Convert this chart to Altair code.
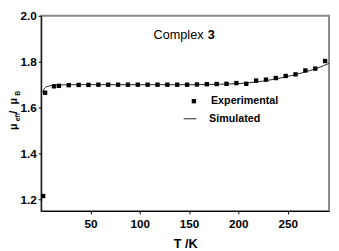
import altair as alt
import pandas as pd

# Experimental data (T in K, mu_eff / mu_B)
T_exp = [2, 4, 13, 18, 28, 38, 48, 58, 68, 78, 88, 98, 108, 118, 128, 138, 148,
         158, 168, 178, 188, 198, 208, 218, 228, 238, 248, 258, 268, 278, 288]
mu_exp = [1.215, 1.665, 1.693, 1.695, 1.698, 1.699, 1.699, 1.700, 1.700, 1.700,
          1.700, 1.700, 1.700, 1.700, 1.700, 1.700, 1.700, 1.701, 1.702, 1.703,
          1.704, 1.707, 1.704, 1.718, 1.722, 1.729, 1.738, 1.745, 1.762, 1.770, 1.803]

# Simulated curve
T_sim = [1.5, 2.5, 3.5, 5, 7, 10, 14, 20, 30, 50, 80, 120, 150, 170, 190, 210,
         230, 250, 265, 280, 292]
mu_sim = [1.668, 1.678, 1.685, 1.690, 1.693, 1.696, 1.698, 1.699, 1.700, 1.700,
          1.700, 1.700, 1.700, 1.701, 1.703, 1.708, 1.719, 1.736, 1.752, 1.772, 1.793]

series_exp = "Experimental"
series_sim = "Simulated"
x_ticks = [50, 100, 150, 200, 250]
y_ticks = [1.2, 1.4, 1.6, 1.8, 2.0]

FONT = "Liberation Sans"

exp_df = pd.DataFrame({"T": T_exp, "mu": mu_exp, "series": series_exp})
sim_df = pd.DataFrame({"T": T_sim, "mu": mu_sim, "series": series_sim})

xscale = alt.Scale(domain=[0, 292], nice=False, zero=False)
yscale = alt.Scale(domain=[1.15, 2.0], nice=False, zero=False)

xaxis = alt.Axis(
    title="T /K", values=x_ticks, format="d",
    tickSize=3, labelOverlap=False,
    grid=False, domainColor="black", tickColor="black", labelColor="black",
    labelFont=FONT, labelFontWeight="bold", labelFontSize=12, labelPadding=5,
    titleFont=FONT, titleFontWeight="bold", titleFontSize=13, titleColor="black",
    titlePadding=8,
)
yaxis = alt.Axis(
    title=None, values=y_ticks, format=".1f",
    tickSize=3, labelOverlap=False,
    grid=False, domainColor="black", tickColor="black", labelColor="black",
    labelFont=FONT, labelFontWeight="bold", labelFontSize=12, labelPadding=2,
)

legend_common = dict(
    title=None, orient="none", padding=0,
    labelFont=FONT, labelFontWeight="bold", labelFontSize=11, labelColor="black",
)

points = alt.Chart(exp_df).mark_point(filled=True, size=20, opacity=1, color="black").encode(
    x=alt.X("T:Q", scale=xscale, axis=xaxis),
    y=alt.Y("mu:Q", scale=yscale, axis=yaxis),
    shape=alt.Shape(
        "series:N",
        scale=alt.Scale(domain=[series_exp], range=["square"]),
        legend=alt.Legend(
            legendX=151, legendY=82, symbolSize=20, symbolFillColor="black",
            labelOffset=12, **legend_common,
        ),
    ),
)

line = alt.Chart(sim_df).mark_line(strokeWidth=1, interpolate="monotone").encode(
    x=alt.X("T:Q", scale=xscale, axis=xaxis),
    y=alt.Y("mu:Q", scale=yscale, axis=yaxis),
    color=alt.Color(
        "series:N",
        scale=alt.Scale(domain=[series_sim], range=["#222222"]),
        legend=alt.Legend(
            legendX=145, legendY=98, symbolType="stroke", symbolSize=170,
            symbolStrokeWidth=1, labelOffset=12, **legend_common,
        ),
    ),
)

one = pd.DataFrame({"a": [0]})

def txt(text, x, y, size, weight="bold", angle=0, align="left"):
    return alt.Chart(one).mark_text(
        text=text, font=FONT, fontSize=size, fontWeight=weight, angle=angle,
        align=align, baseline="alphabetic", color="black",
    ).encode(x=alt.value(x), y=alt.value(y))

# annotation "Complex 3"
complex_lbl = alt.Chart(one).mark_text(
    text="Complex", font=FONT, fontSize=13, fontWeight="normal", align="left",
    baseline="middle", color="black",
).encode(x=alt.datum(114), y=alt.datum(1.915))
complex_num = alt.Chart(one).mark_text(
    text="3", font=FONT, fontSize=13, fontWeight="bold", align="left",
    baseline="middle", color="black",
).encode(x=alt.datum(169), y=alt.datum(1.915))

# y-axis title: mu_eff / mu_B with subscripts (rotated)
ytitle = [
    txt("μ", -25, 117, 11, angle=270),
    txt("eff", -22, 108, 7, angle=270),
    txt("/", -25, 100, 11, angle=270),
    txt("μ", -25, 91, 11, angle=270),
    txt("B", -22, 82, 7, angle=270),
]

chart = alt.layer(line, points, complex_lbl, complex_num, *ytitle).properties(
    width=295, height=200,
    autosize=alt.AutoSizeParams(type="none"),
    padding={"left": 34, "top": 5, "right": 2, "bottom": 38},
).resolve_legend(shape="independent", color="independent").configure_view(
    stroke="#8a8a8a", strokeWidth=2
)

chart.save("out.html", embed_options={"renderer": "svg", "actions": False})
